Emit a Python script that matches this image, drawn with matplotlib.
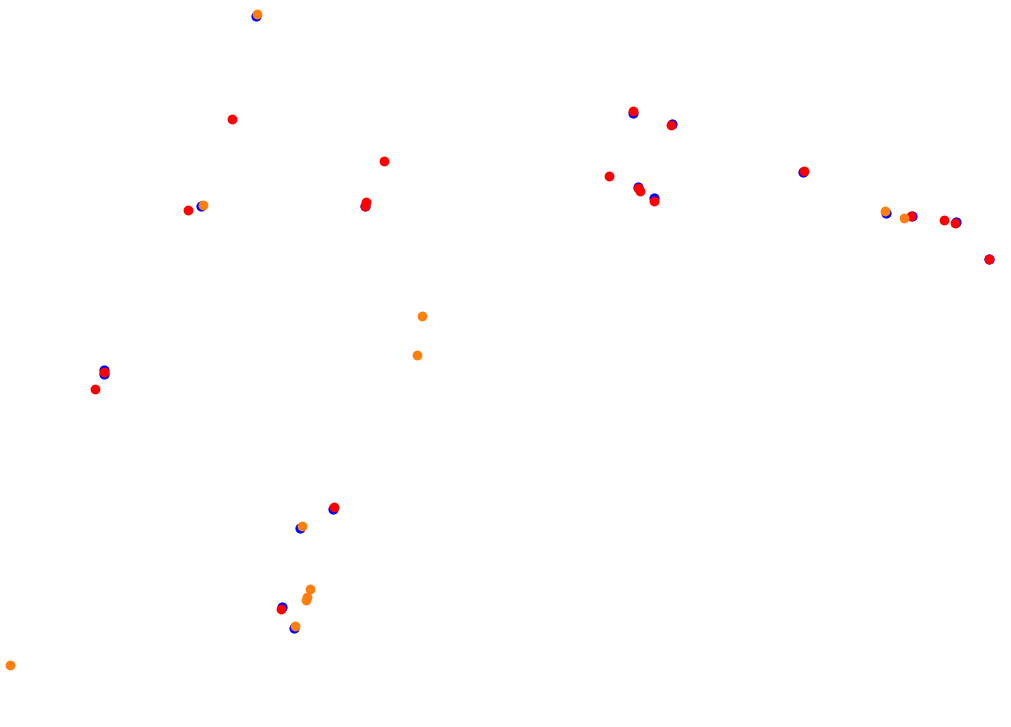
import matplotlib
matplotlib.use("Agg")
import matplotlib.pyplot as plt

# point positions (x, y in picture units, y grows downward)
blue_x = [255.7, 201.3, 365.0, 103.7, 103.7, 332.7, 300.3, 282.0, 293.7,
          632.7, 672.5, 638.0, 654.0, 803.3, 886.0, 912.3, 955.7, 989.3]
blue_y = [16.0, 206.3, 206.0, 369.7, 374.0, 509.0, 528.0, 607.3, 628.0,
          112.7, 123.5, 187.3, 198.3, 172.3, 213.0, 216.3, 222.3, 258.7]

red_x = [231.7, 383.7, 188.0, 366.0, 365.5, 103.7, 95.0, 334.0, 281.0,
         633.3, 671.5, 609.3, 638.5, 640.0, 653.7, 804.3, 911.3, 944.0, 954.7, 988.7]
red_y = [118.7, 160.7, 209.7, 202.0, 205.5, 372.0, 389.0, 506.7, 609.3,
         111.3, 125.0, 176.3, 188.0, 191.0, 201.0, 170.7, 215.7, 219.7, 222.7, 259.0]

orange_x = [256.7, 203.0, 421.7, 416.7, 301.7, 310.0, 307.0, 305.7, 295.0, 10.0, 885.0, 903.7]
orange_y = [13.7, 204.7, 315.7, 354.7, 525.7, 588.7, 596.7, 600.0, 625.7, 665.0, 210.7, 217.7]

fig = plt.figure(figsize=(10.12, 7.27), dpi=100)
ax = fig.add_axes([0, 0, 1, 1])
ax.scatter(blue_x, blue_y, s=54, color="#0000ff", linewidths=0)
ax.scatter(red_x, red_y, s=50, color="#ff0000", linewidths=0)
ax.scatter(orange_x, orange_y, s=50, color="#ff7f0e", linewidths=0)
ax.set_xlim(0, 1012)
ax.set_ylim(727, 0)
ax.axis("off")
fig.savefig("out.png", dpi=100, facecolor="white")
